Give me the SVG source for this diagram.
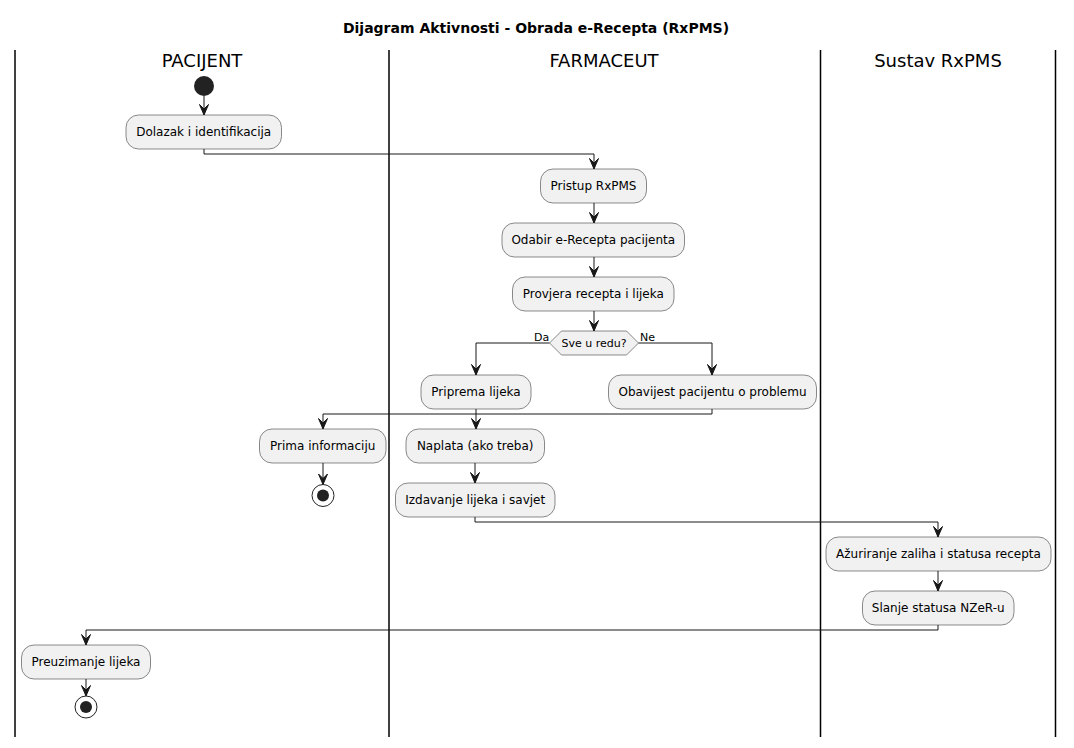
<svg xmlns="http://www.w3.org/2000/svg" width="1074" height="748" viewBox="0 0 1074 748">
<style>
  .box { fill: #F1F1F1; stroke: #181818; stroke-width: 0.5; }
  .lbl { font-family: "DejaVu Sans", sans-serif; font-size: 12px; fill: #000000; text-anchor: middle; }
  .lane { font-family: "DejaVu Sans", sans-serif; font-size: 18px; fill: #000000; text-anchor: middle; }
  .small { font-family: "DejaVu Sans", sans-serif; font-size: 11px; fill: #000000; }
  .title { font-family: "DejaVu Sans", sans-serif; font-size: 14px; font-weight: bold; fill: #000000; text-anchor: middle; }
  .sep { stroke: #000000; stroke-width: 1.5; fill: none; }
  .conn { stroke: #181818; stroke-width: 1; fill: none; marker-end: url(#arr); }
</style>
<defs>
  <marker id="arr" markerUnits="userSpaceOnUse" viewBox="-12 -6 13 12" refX="0" refY="0" markerWidth="13" markerHeight="12" orient="auto">
    <path d="M-10.5,-4.5 L0,0 L-10.5,4.5 L-6,0 Z" fill="#181818" stroke="#181818" stroke-width="1"/>
  </marker>
</defs>
<rect width="1074" height="748" fill="#FFFFFF"/>
<text class="title" x="536" y="33">Dijagram Aktivnosti - Obrada e-Recepta (RxPMS)</text>

<g id="lanes">
  <line class="sep" x1="15" y1="50" x2="15" y2="737"/>
  <line class="sep" x1="389" y1="50" x2="389" y2="737"/>
  <line class="sep" x1="820.5" y1="50" x2="820.5" y2="737"/>
  <line class="sep" x1="1055.5" y1="50" x2="1055.5" y2="737"/>
  <text class="lane" x="202" y="67">PACIJENT</text>
  <text class="lane" x="604" y="67">FARMACEUT</text>
  <text class="lane" x="938" y="67">Sustav RxPMS</text>
</g>

<g id="connectors">
  <path class="conn" d="M204,96 L204,115"/>
  <path class="conn" d="M204,149 L204,154 L594,154 L594,169"/>
  <path class="conn" d="M594,203 L594,223"/>
  <path class="conn" d="M594,257 L594,277"/>
  <path class="conn" d="M594,311 L594,331"/>
  <path class="conn" d="M549.5,343 L476,343 L476,375"/>
  <path class="conn" d="M638.5,343 L712,343 L712,375"/>
  <path class="conn" d="M476,409 L476,429"/>
  <path class="conn" d="M712,409 L712,414 L323,414 L323,429"/>
  <path class="conn" d="M323,463 L323,484.5"/>
  <path class="conn" d="M475,463 L475,483"/>
  <path class="conn" d="M475,517 L475,522 L938,522 L938,537"/>
  <path class="conn" d="M938,571 L938,591"/>
  <path class="conn" d="M938,625 L938,630 L86,630 L86,645"/>
  <path class="conn" d="M86,679 L86,696"/>
  <text class="small" x="534" y="341">Da</text>
  <text class="small" x="640" y="341">Ne</text>
</g>

<g id="start1"><circle cx="204" cy="86" r="10" fill="#222222"/></g>

<g id="n_dolazak">
  <rect class="box" x="126" y="115" width="155.5" height="34" rx="12.5"/>
  <text class="lbl" x="203.7" y="136">Dolazak i identifikacija</text>
</g>
<g id="n_pristup">
  <rect class="box" x="540.5" y="169" width="106" height="34" rx="12.5"/>
  <text class="lbl" x="593.5" y="190">Pristup RxPMS</text>
</g>
<g id="n_odabir">
  <rect class="box" x="502" y="223" width="182.5" height="34" rx="12.5"/>
  <text class="lbl" x="593.3" y="244">Odabir e-Recepta pacijenta</text>
</g>
<g id="n_provjera">
  <rect class="box" x="512.5" y="277" width="161.5" height="34" rx="12.5"/>
  <text class="lbl" x="593.3" y="298">Provjera recepta i lijeka</text>
</g>
<g id="n_odluka">
  <polygon class="box" points="549.5,343 561.5,331 626.5,331 638.5,343 626.5,355 561.5,355"/>
  <text class="small" x="594" y="347" text-anchor="middle">Sve u redu?</text>
</g>
<g id="n_priprema">
  <rect class="box" x="421" y="375" width="110" height="34" rx="12.5"/>
  <text class="lbl" x="476" y="396">Priprema lijeka</text>
</g>
<g id="n_obavijest">
  <rect class="box" x="608.5" y="375" width="208" height="34" rx="12.5"/>
  <text class="lbl" x="712.5" y="396">Obavijest pacijentu o problemu</text>
</g>
<g id="n_prima">
  <rect class="box" x="259.5" y="429" width="126.5" height="34" rx="12.5"/>
  <text class="lbl" x="322.7" y="450">Prima informaciju</text>
</g>
<g id="end1">
  <circle cx="323" cy="495.5" r="11" fill="none" stroke="#222222" stroke-width="1"/>
  <circle cx="323" cy="495.5" r="6" fill="#222222"/>
</g>
<g id="n_naplata">
  <rect class="box" x="406" y="429" width="138.5" height="34" rx="12.5"/>
  <text class="lbl" x="475.2" y="450">Naplata (ako treba)</text>
</g>
<g id="n_izdavanje">
  <rect class="box" x="395.5" y="483" width="159.5" height="34" rx="12.5"/>
  <text class="lbl" x="475.2" y="504">Izdavanje lijeka i savjet</text>
</g>
<g id="n_azuriranje">
  <rect class="box" x="826" y="537" width="225" height="34" rx="12.5"/>
  <text class="lbl" x="938.5" y="558">Ažuriranje zaliha i statusa recepta</text>
</g>
<g id="n_slanje">
  <rect class="box" x="862.5" y="591" width="151.5" height="34" rx="12.5"/>
  <text class="lbl" x="938.2" y="612">Slanje statusa NZeR-u</text>
</g>
<g id="n_preuzimanje">
  <rect class="box" x="21.5" y="645" width="129" height="34" rx="12.5"/>
  <text class="lbl" x="86" y="666">Preuzimanje lijeka</text>
</g>
<g id="end2">
  <circle cx="86" cy="707" r="11" fill="none" stroke="#222222" stroke-width="1"/>
  <circle cx="86" cy="707" r="6" fill="#222222"/>
</g>
</svg>
